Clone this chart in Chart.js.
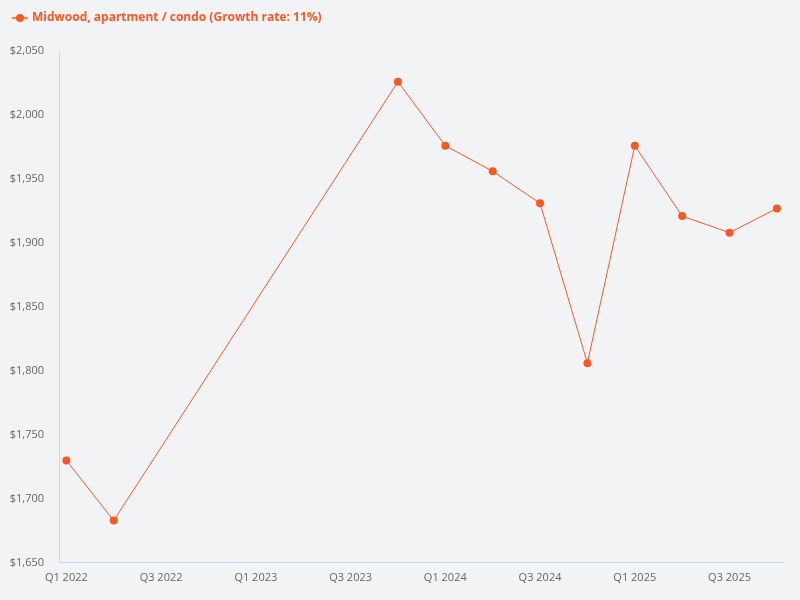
<!DOCTYPE html>
<html>
<head>
<meta charset="utf-8">
<script src="https://cdn.jsdelivr.net/npm/chart.js@4.4.0/dist/chart.umd.min.js"></script>
<style>
html,body{margin:0;padding:0;background:#f2f3f5;}
#wrap{width:800px;height:600px;position:relative;}
</style>
</head>
<body>
<div id="wrap"><canvas id="c" width="800" height="600"></canvas></div>
<script>
const categories = ["Q1 2022","Q2 2022","Q3 2022","Q4 2022","Q1 2023","Q2 2023","Q3 2023","Q4 2023","Q1 2024","Q2 2024","Q3 2024","Q4 2024","Q1 2025","Q2 2025","Q3 2025","Q4 2025"];
const values = [1730, 1683, null, null, null, null, null, 2026, 1976, 1956, 1931, 1806, 1976, 1921, 1908, 1927];
const tickLabelIdx = [0, 2, 4, 6, 8, 10, 12, 14];
const seriesName = "Midwood, apartment / condo (Growth rate: 11%)";
const color = "#ff5722";

const points = [];
values.forEach((v, i) => { if (v !== null) points.push({x: i, y: v}); });

// legend marker: short line with a dot
const marker = document.createElement('canvas');
marker.width = 20; marker.height = 10;
(function(){
  const m = marker.getContext('2d');
  m.strokeStyle = color; m.lineWidth = 1.5;
  m.beginPath(); m.moveTo(3, 5); m.lineTo(19, 5); m.stroke();
  m.fillStyle = color;
  m.beginPath(); m.arc(11, 5, 4, 0, Math.PI * 2); m.fill();
})();

Chart.defaults.font.family = "'Open Sans', sans-serif";
new Chart(document.getElementById('c'), {
  type: 'line',
  data: {
    datasets: [{
      label: seriesName,
      data: points,
      borderColor: color,
      backgroundColor: color,
      borderWidth: 1,
      pointRadius: 4,
      pointHoverRadius: 5,
      pointBorderWidth: 0,
      tension: 0
    }]
  },
  options: {
    responsive: false,
    animation: false,
    layout: {padding: {left: 0, right: 16, top: 0, bottom: 8}},
    plugins: {
      legend: {
        position: 'top',
        align: 'start',
        labels: {
          usePointStyle: true,
          pointStyleWidth: 14,
          color: color,
          font: {size: 12, weight: 'bold'},
          padding: 12,
          generateLabels: (chart) => [{
            text: seriesName,
            fillStyle: color,
            strokeStyle: color,
            fontColor: color,
            lineWidth: 0,
            pointStyle: marker,
            datasetIndex: 0
          }]
        }
      },
      tooltip: {enabled: false}
    },
    scales: {
      x: {
        type: 'linear',
        min: -0.155,
        max: 15.15,
        grid: {display: false, drawTicks: false},
        border: {color: '#c9d5e8', width: 1},
        afterBuildTicks: (axis) => { axis.ticks = tickLabelIdx.map(v => ({value: v})); },
        ticks: {
          color: '#666',
          font: {size: 11},
          padding: 8,
          maxRotation: 0,
          autoSkip: false,
          callback: (v) => categories[v]
        }
      },
      y: {
        min: 1650,
        max: 2050,
        grid: {display: false, drawTicks: false},
        border: {color: '#c9d5e8', width: 1},
        afterFit: (axis) => { axis.width = 59; },
        ticks: {
          stepSize: 50,
          color: '#666',
          font: {size: 11},
          padding: 15,
          callback: (v) => '$' + v.toLocaleString('en-US')
        }
      }
    }
  },
  plugins: [{
    id: 'bg',
    beforeInit: (chart) => {
      const lg = chart.legend;
      if (lg) {
        const fit = lg.fit.bind(lg);
        lg.fit = function(){ fit(); this.height += 17; };
      }
    },
    beforeDraw: (chart) => {
      const ctx = chart.ctx;
      ctx.save();
      ctx.fillStyle = '#f2f3f5';
      ctx.fillRect(0, 0, chart.width, chart.height);
      ctx.restore();
    }
  }]
});
</script>
</body>
</html>
